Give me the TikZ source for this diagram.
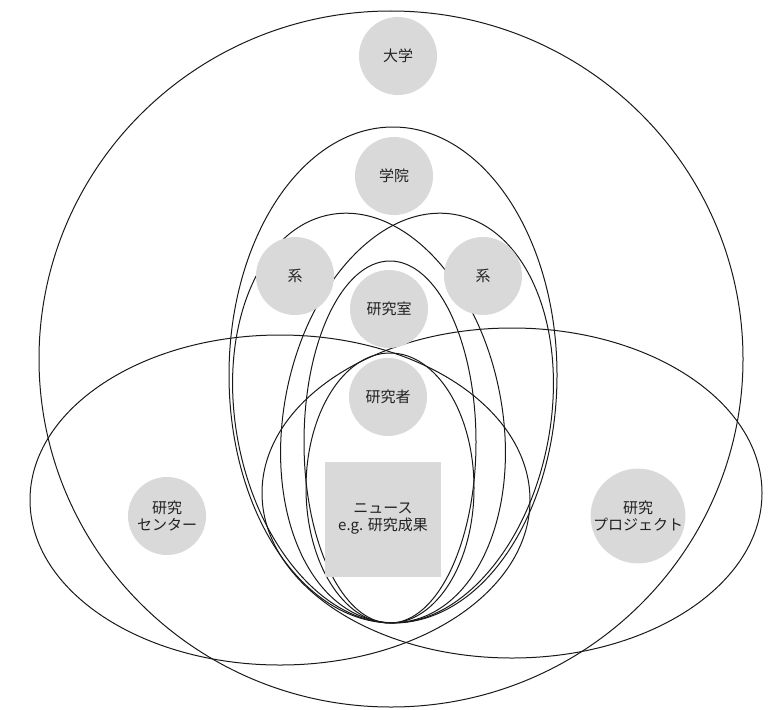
\documentclass[tikz,border=0pt]{standalone}
\usepackage{fontspec}
\setmainfont{Noto Sans CJK JP}
\usepackage{xcolor}
\usetikzlibrary{positioning}

\definecolor{blobgray}{HTML}{D9D9D9}
\definecolor{inkgray}{HTML}{222222}

\begin{document}
\begin{tikzpicture}[
    x=1pt, y=-1pt,
    blob/.style={circle, fill=blobgray, minimum size=78pt, inner sep=0pt, align=center, text=inkgray, font=\fontsize{15}{17}\selectfont},
    newsbox/.style={rectangle, fill=blobgray, minimum width=116pt, minimum height=115pt, inner sep=0pt, align=center, text=inkgray, font=\fontsize{15}{17}\selectfont},
    rim/.style={draw=black!90, line width=1pt}
]
    \useasboundingbox (0,0) rectangle (770,709);

    % Ellipses
    \draw[rim] (391,359) ellipse [x radius=352, y radius=348];
    \draw[rim] (393,375) ellipse [x radius=164, y radius=248];
    \draw[rim, rotate around={11:(369,418)}] (369,418) ellipse [x radius=133, y radius=207];
    \draw[rim, rotate around={-11:(417,418)}] (417,418) ellipse [x radius=133, y radius=207];
    \draw[rim] (390,442) ellipse [x radius=86, y radius=181];
    \draw[rim] (390,488) ellipse [x radius=84, y radius=135];
    \draw[rim] (280,500) ellipse [x radius=250, y radius=165];
    \draw[rim] (512,493) ellipse [x radius=250, y radius=165];

    % Labels
    \node[blob] (daigaku) at (398,56) {大学};
    \node[blob] (gakuin) at (394,176) {学院};
    \node[blob] (keiL) at (295,276) {系};
    \node[blob] (keiR) at (483,276) {系};
    \node[blob] (lab) at (389,309) {研究室};
    \node[blob] (researcher) at (388,397) {研究者};
    \node[blob] (center) at (167,516) {研究\\センター};
    \node[blob] (project) at (638,516) {研究\\プロジェクト};
    \node[newsbox] (news) at (383,519) {ニュース\\e.g. 研究成果};

\end{tikzpicture}
\end{document}
